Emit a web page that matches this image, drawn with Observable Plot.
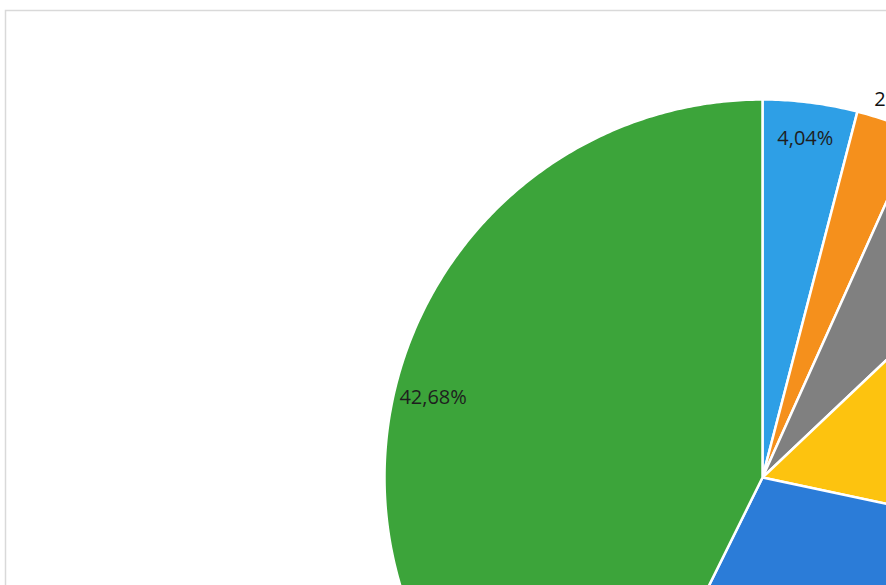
<!DOCTYPE html>
<html><head><meta charset="utf-8">
<script src="https://cdn.jsdelivr.net/npm/d3@7"></script>
<script src="https://cdn.jsdelivr.net/npm/@observablehq/plot@0.6"></script>
<style>html,body{margin:0;padding:0;background:#fff;overflow:hidden;width:886px;height:585px}#chart svg{display:block}</style>
</head><body><div id="chart"></div>
<script>
// Data (slices clockwise from 12 o'clock)
const categories = ["Part 1", "Part 2", "Part 3", "Part 4", "Part 5", "Part 6"];
const values = [4.04, 2.69, 6.20, 15.40, 28.99, 42.68];
const labels = ["4,04%", "2,69%", "6,20%", "15,40%", "28,99%", "42,68%"];
const colors = ["#2e9fe6", "#f5901c", "#808080", "#fdc30f", "#2b7cd8", "#3ca43a"];

// Layout
const W = 886, H = 585, cx = 762, cy = 477, R = 378;

const arcs = d3.pie().sort(null).value(d => d)(values);
const pts = [];
arcs.forEach((a, i) => {
  const cat = categories[i];
  pts.push({cat, x: 0, y: 0});
  const n = Math.max(2, Math.ceil((a.endAngle - a.startAngle) / (Math.PI / 360)));
  for (let k = 0; k <= n; k++) {
    const t = a.startAngle + (a.endAngle - a.startAngle) * k / n;
    pts.push({cat, x: Math.sin(t), y: Math.cos(t)});
  }
  pts.push({cat, x: 0, y: 0});
});
const labelData = arcs.map((a, i) => {
  const m = (a.startAngle + a.endAngle) / 2;
  const outside = values[i] < 3;
  const r = outside ? 1.065 : 0.895;
  return {text: labels[i], x: r * Math.sin(m), y: r * Math.cos(m), outside};
});

const chart = Plot.plot({
  width: W, height: H, margin: 0,
  x: {domain: [-cx / R, (W - cx) / R], axis: null},
  y: {domain: [-(H - cy) / R, cy / R], axis: null},
  color: {domain: categories, range: colors},
  style: {background: "white", overflow: "hidden"},
  marks: [
    Plot.frame({stroke: "#d9d9d9", strokeWidth: 1.5, insetLeft: 5, insetTop: 10, insetRight: -10, insetBottom: -10}),
    Plot.line(pts, {x: "x", y: "y", z: "cat", fill: "cat", stroke: "white", strokeWidth: 2.5, strokeLinejoin: "round", curve: "linear"}),
    Plot.text(labelData.filter(d => !d.outside), {x: "x", y: "y", text: "text", fontSize: 20, fill: "#1e1e1e", fontFamily: "Open Sans", textAnchor: "middle", dy: -3}),
    Plot.text(labelData.filter(d => d.outside), {x: "x", y: "y", text: "text", fontSize: 20, fill: "#111", fontFamily: "Open Sans", textAnchor: "middle", dx: 6, dy: 2})
  ]
});
document.getElementById("chart").appendChild(chart);
</script>
</body></html>
